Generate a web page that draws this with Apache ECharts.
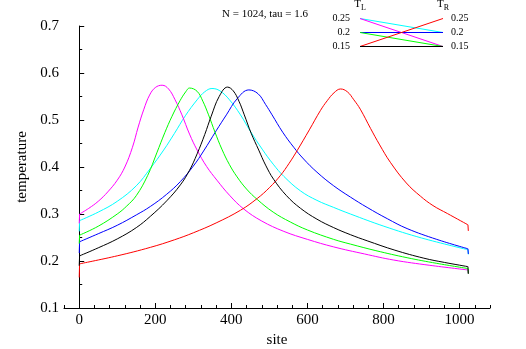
<!DOCTYPE html>
<html>
<head>
<meta charset="utf-8">
<script src="https://cdn.jsdelivr.net/npm/echarts@6/dist/echarts.min.js"></script>
<style>html,body{margin:0;padding:0;background:#fff}#c{width:526px;height:349px}</style>
</head>
<body>
<div id="c"></div>
<script>
// ---- data (site, temperature) ----
const magenta = [[0,0.280],[1,0.300],[25,0.312],[50,0.327],[75,0.347],[100,0.372],[120,0.400],[140,0.442],[155,0.485],[170,0.523],[185,0.553],[200,0.569],[218,0.574],[235,0.566],[252,0.543],[270,0.511],[290,0.470],[310,0.436],[335,0.401],[362,0.372],[395,0.340],[432,0.311],[480,0.285],[538,0.263],[600,0.246],[669,0.230],[750,0.215],[827,0.202],[920,0.191],[1022,0.181],[1023,0.173]];
const green = [[0,0.237],[1,0.255],[50,0.274],[100,0.300],[125,0.317],[150,0.339],[180,0.382],[204,0.430],[225,0.473],[244,0.508],[265,0.541],[280,0.560],[290,0.568],[310,0.561],[325,0.540],[340,0.511],[357,0.474],[375,0.438],[395,0.405],[415,0.379],[440,0.353],[468,0.331],[510,0.304],[555,0.283],[600,0.266],[669,0.246],[713,0.236],[780,0.222],[862,0.207],[940,0.195],[1022,0.184],[1023,0.173]];
const cyan = [[0,0.263],[1,0.286],[50,0.304],[100,0.327],[150,0.360],[187,0.397],[222,0.436],[250,0.471],[279,0.509],[310,0.543],[330,0.560],[349,0.567],[370,0.562],[395,0.543],[424,0.511],[450,0.476],[481,0.438],[510,0.406],[538,0.380],[582,0.349],[625,0.329],[669,0.314],[713,0.300],[801,0.274],[900,0.249],[1022,0.224],[1023,0.214]];
const black = [[0,0.190],[1,0.211],[50,0.228],[100,0.247],[150,0.271],[187,0.295],[230,0.328],[266,0.362],[290,0.393],[310,0.428],[330,0.469],[347,0.508],[368,0.550],[390,0.570],[405,0.562],[420,0.540],[434,0.511],[452,0.472],[472,0.436],[490,0.404],[511,0.374],[545,0.339],[582,0.312],[625,0.289],[669,0.271],[713,0.256],[757,0.243],[830,0.223],[906,0.206],[960,0.197],[1022,0.188],[1023,0.173]];
const blue = [[0,0.217],[1,0.241],[50,0.258],[100,0.276],[150,0.298],[187,0.316],[230,0.342],[266,0.369],[300,0.402],[327,0.434],[360,0.477],[387,0.511],[415,0.545],[446,0.564],[470,0.556],[490,0.533],[507,0.511],[535,0.474],[564,0.442],[590,0.417],[625,0.389],[669,0.360],[713,0.336],[757,0.314],[810,0.290],[862,0.269],[940,0.246],[1022,0.226],[1023,0.215]];
const red = [[0,0.165],[1,0.194],[100,0.211],[187,0.229],[250,0.245],[300,0.260],[360,0.281],[424,0.308],[468,0.333],[500,0.356],[529,0.382],[552,0.408],[573,0.435],[605,0.479],[634,0.520],[652,0.541],[670,0.558],[687,0.566],[705,0.560],[722,0.543],[739,0.523],[766,0.482],[790,0.447],[818,0.410],[860,0.366],[897,0.338],[930,0.318],[968,0.301],[1022,0.277],[1023,0.264]];

const seriesNames = ['cyan','magenta','blue','green','red','black'];
const seriesColors = ['#00ffff','#ff00ff','#0000ff','#00ff00','#ff0000','#000000'];
const seriesData = [cyan, magenta, blue, green, red, black];
const boundaryTL = [0.25, 0.25, 0.2, 0.2, 0.15, 0.15];
const boundaryTR = [0.2, 0.15, 0.2, 0.15, 0.25, 0.15];

const xMajorTicks = [0, 200, 400, 600, 800, 1000];
const titleText = 'N = 1024, tau = 1.6';

const FONT = 'Liberation Serif';
const chart = echarts.init(document.getElementById('c'));

const series = [];
seriesData.forEach((d, i) => {
  const ls = {color: seriesColors[i], width: 1};
  // smooth bulk profile
  series.push({type: 'line', name: seriesNames[i], xAxisIndex: 0, yAxisIndex: 0,
    data: d.slice(1, -1), showSymbol: false, smooth: 0.4, lineStyle: ls, z: 3});
  // boundary drops at both ends
  series.push({type: 'line', name: seriesNames[i] + '_l', xAxisIndex: 0, yAxisIndex: 0,
    data: d.slice(0, 2), showSymbol: false, lineStyle: ls, z: 3});
  series.push({type: 'line', name: seriesNames[i] + '_r', xAxisIndex: 0, yAxisIndex: 0,
    data: d.slice(-2), showSymbol: false, lineStyle: ls, z: 3});
  // legend line: T_L -> T_R
  series.push({type: 'line', name: seriesNames[i] + '_leg', xAxisIndex: 2, yAxisIndex: 1,
    data: [[0, boundaryTL[i]], [1, boundaryTR[i]]], showSymbol: false, lineStyle: ls, z: 3});
});

const subRich = {
  t: {fontFamily: FONT, fontSize: 11, color: '#000'},
  s: {fontFamily: FONT, fontSize: 8, color: '#000', padding: [7, 0, 0, 0]}
};

chart.setOption({
  animation: false,
  backgroundColor: '#fff',
  title: {text: titleText, left: 217, top: 4, textStyle: {fontFamily: FONT, fontSize: 11, fontWeight: 'normal', color: '#000'}},
  grid: [
    {left: 64, top: 26, width: 426, height: 282, outerBoundsMode: 'none', containLabel: false},
    {left: 360, top: 18.5, width: 83, height: 28, outerBoundsMode: 'none', containLabel: false}
  ],
  xAxis: [
    {type: 'value', gridIndex: 0, min: -40, max: 1080,
     name: 'site', nameLocation: 'middle', nameGap: 25,
     nameTextStyle: {fontFamily: FONT, fontSize: 15, color: '#000'},
     axisLine: {show: true, lineStyle: {color: '#000', width: 1}},
     axisTick: {show: true, inside: true, length: 5, customValues: xMajorTicks, lineStyle: {color: '#000'}},
     axisLabel: {customValues: xMajorTicks, formatter: v => String(v), fontFamily: FONT, fontSize: 15, color: '#000', margin: 5},
     splitLine: {show: false}},
    {type: 'value', gridIndex: 0, min: -40, max: 1080, interval: 40, position: 'bottom',
     axisLine: {show: false},
     axisTick: {show: true, inside: true, length: 3, lineStyle: {color: '#000'}},
     axisLabel: {show: false}, splitLine: {show: false}},
    {type: 'value', gridIndex: 1, min: 0, max: 1, show: false}
  ],
  yAxis: [
    {type: 'value', gridIndex: 0, min: 0.1, max: 0.7, interval: 0.1,
     name: 'temperature', nameLocation: 'middle', nameGap: 28, nameRotate: 90,
     nameTextStyle: {fontFamily: FONT, fontSize: 15, color: '#000'},
     axisLine: {show: true, lineStyle: {color: '#000', width: 1}},
     axisTick: {show: true, inside: true, length: 5, lineStyle: {color: '#000'}},
     minorTick: {show: true, splitNumber: 2, length: 3, lineStyle: {color: '#000'}},
     axisLabel: {fontFamily: FONT, fontSize: 15, color: '#000', margin: 5},
     splitLine: {show: false}},
    {type: 'value', gridIndex: 1, min: 0.15, max: 0.25, interval: 0.05, position: 'left',
     name: '{t|T}{s|L}', nameLocation: 'end', nameGap: 7, nameTextStyle: {rich: subRich},
     axisLine: {show: false}, axisTick: {show: false}, splitLine: {show: false},
     axisLabel: {fontFamily: FONT, fontSize: 10, color: '#000', margin: 10}},
    {type: 'value', gridIndex: 1, min: 0.15, max: 0.25, interval: 0.05, position: 'right',
     name: '{t|T}{s|R}', nameLocation: 'end', nameGap: 7, nameTextStyle: {rich: subRich},
     axisLine: {show: false}, axisTick: {show: false}, splitLine: {show: false},
     axisLabel: {fontFamily: FONT, fontSize: 10, color: '#000', margin: 8}}
  ],
  series: series
});
</script>
</body>
</html>
